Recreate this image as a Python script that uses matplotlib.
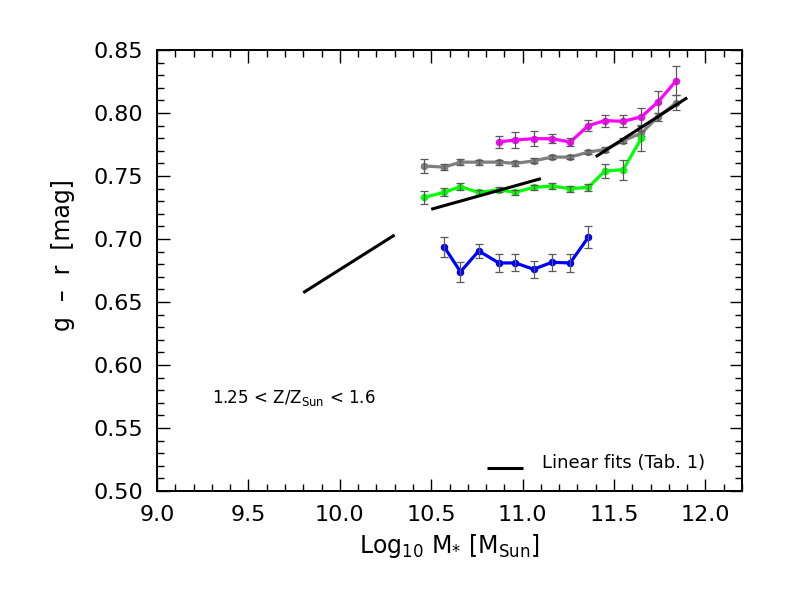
import matplotlib
matplotlib.use("Agg")
import matplotlib.pyplot as plt
from matplotlib.ticker import MultipleLocator, FormatStrFormatter

plt.rcParams['font.family'] = ['DejaVu Sans']
plt.rcParams['mathtext.default'] = 'regular'

# ---- data ----
mass_bins = [10.46, 10.57, 10.66, 10.76, 10.87, 10.96, 11.06, 11.16,
             11.26, 11.36, 11.45, 11.55, 11.65, 11.74, 11.84]

gray_x = mass_bins
gray_y = [0.758, 0.757, 0.761, 0.761, 0.761, 0.760, 0.762, 0.765,
          0.765, 0.769, 0.771, 0.778, 0.784, 0.797, 0.808]
gray_e = [0.0057, 0.0026, 0.0024, 0.0019, 0.0020, 0.0020, 0.0020, 0.0017,
          0.0017, 0.0016, 0.0017, 0.0020, 0.0020, 0.0033, 0.0060]

green_x = mass_bins[:13]
green_y = [0.733, 0.737, 0.7415, 0.737, 0.739, 0.737, 0.741, 0.742,
           0.740, 0.741, 0.754, 0.755, 0.780]
green_e = [0.0049, 0.0032, 0.0026, 0.0020, 0.0020, 0.0020, 0.0020, 0.0026,
           0.0024, 0.0026, 0.0055, 0.0080, 0.0100]

blue_x = mass_bins[1:10]
blue_y = [0.694, 0.674, 0.6905, 0.681, 0.681, 0.676, 0.6815, 0.681, 0.7015]
blue_e = [0.0079, 0.0079, 0.0056, 0.0073, 0.0067, 0.0067, 0.0066, 0.0069, 0.0086]

magenta_x = mass_bins[4:]
magenta_y = [0.777, 0.7786, 0.7796, 0.7796, 0.777, 0.790, 0.794, 0.7934,
             0.797, 0.8087, 0.8256]
magenta_e = [0.0045, 0.0060, 0.0058, 0.0038, 0.0033, 0.0045, 0.0048, 0.0049,
             0.0066, 0.0086, 0.0116]

# linear fits: (x_start, x_end), (y_start, y_end)
fit1_x = [9.80, 10.30]
fit1_y = [0.6574, 0.7032]
fit2_x = [10.50, 11.10]
fit2_y = [0.7236, 0.7479]
fit3_x = [11.40, 11.90]
fit3_y = [0.7653, 0.8121]

x_ticks = [9.0, 9.5, 10.0, 10.5, 11.0, 11.5, 12.0]
y_ticks = [0.50, 0.55, 0.60, 0.65, 0.70, 0.75, 0.80, 0.85]

# ---- figure ----
fig = plt.figure(figsize=(7.89, 5.92), dpi=100)
ax = fig.add_axes([157/789, 1-491/592, (742-157)/789, (491-50)/592])

def series(x, y, e, color, z):
    ax.errorbar(x, y, yerr=e, fmt='none', ecolor='0.35', elinewidth=0.9,
                capsize=2.6, capthick=0.9, zorder=z+0.5)
    ax.plot(x, y, '-o', color=color, lw=2.3, ms=4.4, zorder=z)

series(gray_x, gray_y, gray_e, '#7f7f7f', 2)
series(green_x, green_y, green_e, '#00ff00', 3)
series(blue_x, blue_y, blue_e, '#0000ff', 3)
series(magenta_x, magenta_y, magenta_e, '#ff00ff', 4)

for fx, fy in [(fit1_x, fit1_y), (fit2_x, fit2_y), (fit3_x, fit3_y)]:
    ax.plot(fx, fy, color='black', lw=2.2, zorder=6, solid_capstyle='butt')

ax.set_xlim(9.0, 12.2)
ax.set_ylim(0.50, 0.85)
ax.set_xticks(x_ticks)
ax.set_yticks(y_ticks)
ax.xaxis.set_major_formatter(FormatStrFormatter('%.1f'))
ax.yaxis.set_major_formatter(FormatStrFormatter('%.2f'))
ax.xaxis.set_minor_locator(MultipleLocator(0.1))
ax.yaxis.set_minor_locator(MultipleLocator(0.01))
ax.tick_params(which='both', direction='in', top=True, right=True,
               labelsize=16, width=1.0)
ax.tick_params(which='major', length=9, pad=10)
ax.tick_params(which='minor', length=5)
for s in ax.spines.values():
    s.set_linewidth(1.4)

ax.set_xlabel('Log$_{10}$ M$_{*}$ [M$_{Sun}$]', fontsize=17, labelpad=5)
ax.set_ylabel('g  –  r  [mag]', fontsize=17)
ax.yaxis.set_label_coords(-0.140, 0.535)

ax.text(212/789, 1-398/592, '1.25 < Z/Z$_{Sun}$ < 1.6', transform=fig.transFigure,
        fontsize=12, va='center', ha='left')

# legend
ax.plot([487/789, 523/789], [1-468/592, 1-468/592], color='black', lw=2.2,
        transform=fig.transFigure, clip_on=False, solid_capstyle='butt')
ax.text(542/789, 1-463/592, 'Linear fits (Tab. 1)', transform=fig.transFigure,
        fontsize=13, va='center', ha='left')

fig.savefig('out.png', dpi=100)
